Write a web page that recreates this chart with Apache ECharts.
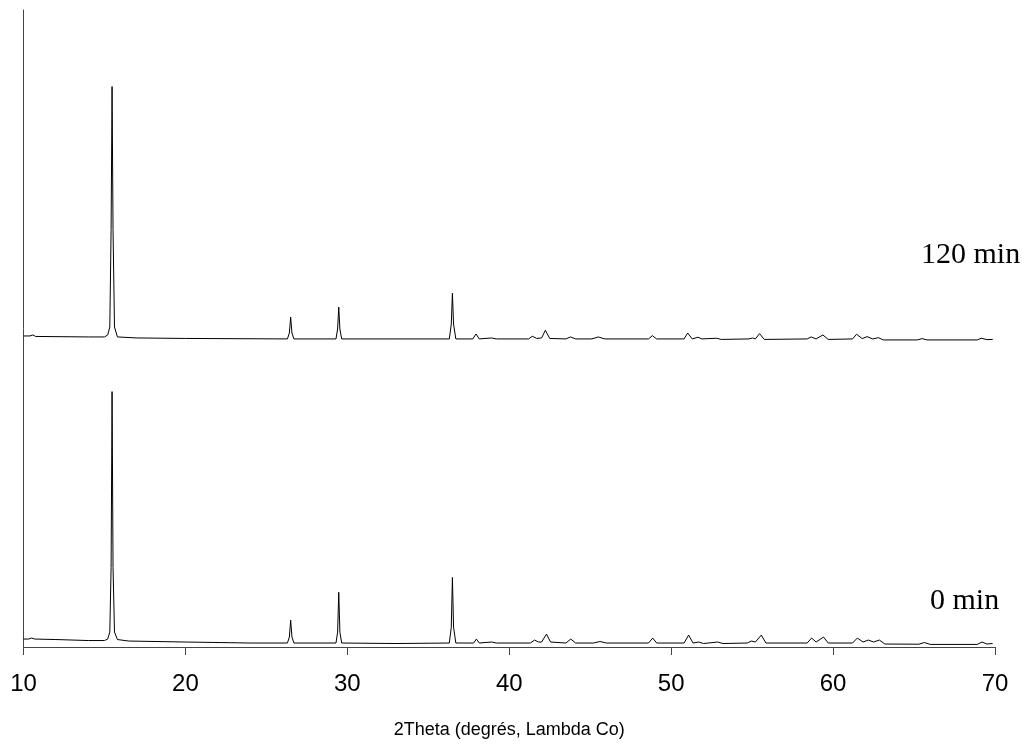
<!DOCTYPE html>
<html>
<head>
<meta charset="utf-8">
<script src="https://cdn.jsdelivr.net/npm/echarts@6/dist/echarts.min.js"></script>
<style>html,body{margin:0;padding:0;background:#fff}#c{width:1026px;height:744px}</style>
</head>
<body>
<div id="c"></div>
<script>
// Tick labels of the 2Theta axis
const xTicks = [10, 20, 30, 40, 50, 60, 70];
const xTitle = '2Theta (degrés, Lambda Co)';
const traceNames = ['0 min', '120 min'];

// 0 min trace: [2Theta, offset intensity (arb.)]
const trace0 = [
  [10.0,8],[10.3,8],[10.5,9],[10.7,8],[12,7.5],[14,6.5],[15.0,6.5],[15.2,8],[15.33,15],[15.41,80],[15.47,257],[15.53,80],[15.62,15],[15.8,7.5],
  [16.5,6],[20,5],[24,4],[26.3,4],[26.42,10],[26.5,27],[26.58,10],[26.7,4],
  [29.3,4],[29.4,15],[29.47,55],[29.54,15],[29.65,4],[33,3.5],
  [36.3,4],[36.42,20],[36.49,70],[36.56,20],[36.7,4],[37.8,4],[37.97,8],[38.15,4],[38.9,5],[39.2,4],
  [41.3,4],[41.57,7],[41.8,5],[42.0,5],[42.3,13],[42.55,5],[43.5,4],[43.8,8],[44.1,4],
  [45.2,4],[45.6,5.5],[46.0,4],[48.6,4],[48.86,9],[49.1,4],[50.8,4],[51.08,12],[51.35,4],[51.7,5],[52.0,3.5],[52.87,5],[53.2,3.5],
  [54.7,4],[54.95,6],[55.2,5],[55.57,12],[55.85,4],[58.4,4],[58.67,9],[58.95,5],[59.41,10],[59.7,4],
  [61.2,4],[61.5,9],[61.85,5],[62.18,7],[62.5,5],[62.86,7],[63.2,3],[65.3,2.8],[65.64,4.5],[66,2.6],
  [68.9,2.6],[69.2,5],[69.5,3],[69.85,3.5]
];

// 120 min trace: [2Theta, offset intensity (arb.)]
const trace120 = [
  [10.0,313],[10.4,313],[10.57,314],[10.75,312.5],[14,312],[15.0,312],[15.2,314],[15.33,322],[15.41,420],[15.47,564],[15.53,420],[15.62,322],[15.8,312],
  [17,311],[20,310.5],[26.3,310],[26.42,316],[26.5,332],[26.58,316],[26.7,310],
  [29.3,310],[29.4,320],[29.47,342],[29.54,320],[29.65,310],[33,310],
  [36.3,310],[36.42,325],[36.49,356],[36.56,325],[36.7,310],[37.75,310],[37.95,315],[38.15,310],[38.9,311],[39.2,310],
  [41.2,310],[41.42,312.7],[41.7,310.5],[42.0,311],[42.23,318.7],[42.5,310.5],[43.5,310],[43.78,312],[44.1,310],
  [45.1,310],[45.5,312],[45.9,310],[48.6,310],[48.84,313.3],[49.1,310],[50.8,310],[51.02,316],[51.3,310],[51.65,311.7],[51.9,310],[52.8,310.7],[53.1,309.5],
  [54.8,310],[55.03,311],[55.2,310],[55.46,315.3],[55.75,309.5],[58.4,310],[58.65,312],[58.95,310],[59.37,314],[59.7,309.5],
  [61.2,310],[61.45,314.7],[61.8,310.3],[62.1,312.3],[62.45,310],[62.8,311.3],[63.1,309],[65.2,309],[65.5,310.3],[65.8,309],
  [68.9,309],[69.15,310.7],[69.5,309.3],[69.86,309.5]
];

const chart = echarts.init(document.getElementById('c'), null, {renderer: 'canvas'});
const serif = '"Liberation Serif", "Times New Roman", serif';
const sans = '"Liberation Sans", Arial, sans-serif';
chart.setOption({
  animation: false,
  backgroundColor: '#fff',
  grid: {left: 23.5, right: 31, top: 10, bottom: 93, containLabel: false},
  xAxis: {
    type: 'value', min: xTicks[0], max: xTicks[xTicks.length - 1], interval: 10,
    name: xTitle, nameLocation: 'middle', nameGap: 74,
    nameTextStyle: {fontFamily: sans, fontSize: 18, color: '#000'},
    axisLine: {show: true, onZero: false, lineStyle: {color: '#444', width: 1}},
    axisTick: {show: true, length: 8, inside: false, lineStyle: {color: '#444', width: 1}},
    axisLabel: {fontFamily: sans, fontSize: 24, color: '#000', margin: 25},
    splitLine: {show: false}
  },
  yAxis: {
    type: 'value', min: 0, max: 641,
    axisLine: {show: true, lineStyle: {color: '#444', width: 1}},
    axisTick: {show: false}, axisLabel: {show: false}, splitLine: {show: false}
  },
  series: [
    {name: traceNames[0], type: 'line', data: trace0, showSymbol: false, symbol: 'none',
     lineStyle: {color: '#000', width: 1}},
    {name: traceNames[1], type: 'line', data: trace120, showSymbol: false, symbol: 'none',
     lineStyle: {color: '#000', width: 1}}
  ],
  graphic: [
    {type: 'text', left: 921, top: 240, style: {text: traceNames[1], font: '30px ' + serif, fill: '#000'}},
    {type: 'text', left: 930, top: 586, style: {text: traceNames[0], font: '30px ' + serif, fill: '#000'}}
  ]
});
</script>
</body>
</html>
